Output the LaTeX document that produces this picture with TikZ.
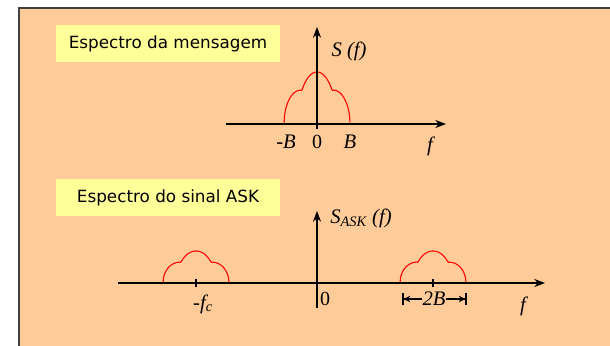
\documentclass[tikz,border=0pt]{standalone}
\usepackage{fontspec}
\setmainfont{DejaVu Sans}
\newfontfamily\timesfont{Liberation Serif}
\usepackage{xcolor}
\usepackage{tikz}
\usetikzlibrary{arrows.meta, positioning, calc}
\definecolor{peach}{HTML}{FFCC99}
\definecolor{paleyellow}{HTML}{FFFF99}

\begin{document}
\begin{tikzpicture}[
  x=0.75pt, y=-0.75pt,
  box/.style={rectangle, fill=paleyellow, minimum width=168pt, minimum height=28pt,
    inner sep=0pt, font=\fontsize{12.6}{14}\selectfont},
  lbl/.style={inner sep=0pt, font=\timesfont\itshape\fontsize{15.5}{17}\selectfont},
  num/.style={inner sep=0pt, font=\timesfont\fontsize{15}{17}\selectfont},
  axis/.style={line width=2pt, -{Stealth[length=8pt, width=6pt]}},
  spec/.style={red, line width=0.8pt},
  dim/.style={line width=1.2pt, -{Stealth[length=5pt, width=5pt]Bar[width=9pt]}},
  declare function={lobe(\t)=max(sqrt(max(0,1-(\t*\t)/0.36)),
    0.65*sqrt(max(0,1-(abs(\t)-0.5)*(abs(\t)-0.5)/0.25)));},
]
  \useasboundingbox (0,0) rectangle (610,346);
  % background panel
  \fill[peach] (19,8) rectangle (610,346);
  \draw[black!75, line width=1.2pt] (19,346) -- (19,8) -- (610,8);

  % message spectrum
  \node[box] (title1) at (168,43.5) {Espectro da mensagem};
  \coordinate (y1top) at (317,27);
  \coordinate (y1bot) at (317,129);
  \coordinate (x1left) at (226,124);
  \coordinate (x1right) at (446,124);
  \draw[spec] plot[domain=-1:1, samples=121] ({317+33*\x},{124-52*lobe(\x)});
  \draw[axis] (y1bot) -- (y1top);
  \draw[axis] (x1left) -- (x1right);
  \node[lbl] (S) at (349,51) {S (f)};
  \node[lbl] (mB) at (286,142) {-B};
  \node[num] (zero1) at (317,142) {0};
  \node[lbl] (pB) at (350,142) {B};
  \node[lbl] (f1) at (430,146) {f};

  % ASK spectrum
  \node[box] (title2) at (168,197.5) {Espectro do sinal ASK};
  \coordinate (y2top) at (317,211);
  \coordinate (y2bot) at (317,308);
  \coordinate (x2left) at (118,283);
  \coordinate (x2right) at (545,283);
  \foreach \c in {196,433} {
    \draw[spec] plot[domain=-1:1, samples=121] ({\c+33*\x},{283-32*lobe(\x)});
    \draw[line width=1.2pt] (\c,279) -- (\c,287);
  }
  \draw[axis] (y2bot) -- (y2top);
  \draw[axis] (x2left) -- (x2right);
  \node[lbl] (Sask) at (361,218) {S\textsubscript{ASK} (f)};
  \node[lbl] (mfc) at (203,304) {-f\textsubscript{c}};
  \node[num] (zero2) at (325,299) {0};
  \node[lbl] (twoB) at (434,299) {2B};
  \coordinate (bandL) at (402,299);
  \coordinate (bandR) at (467,299);
  \draw[dim] (twoB.west) -- (bandL);
  \draw[dim] (twoB.east) -- (bandR);
  \node[lbl] (f2) at (523,306) {f};
\end{tikzpicture}
\end{document}
